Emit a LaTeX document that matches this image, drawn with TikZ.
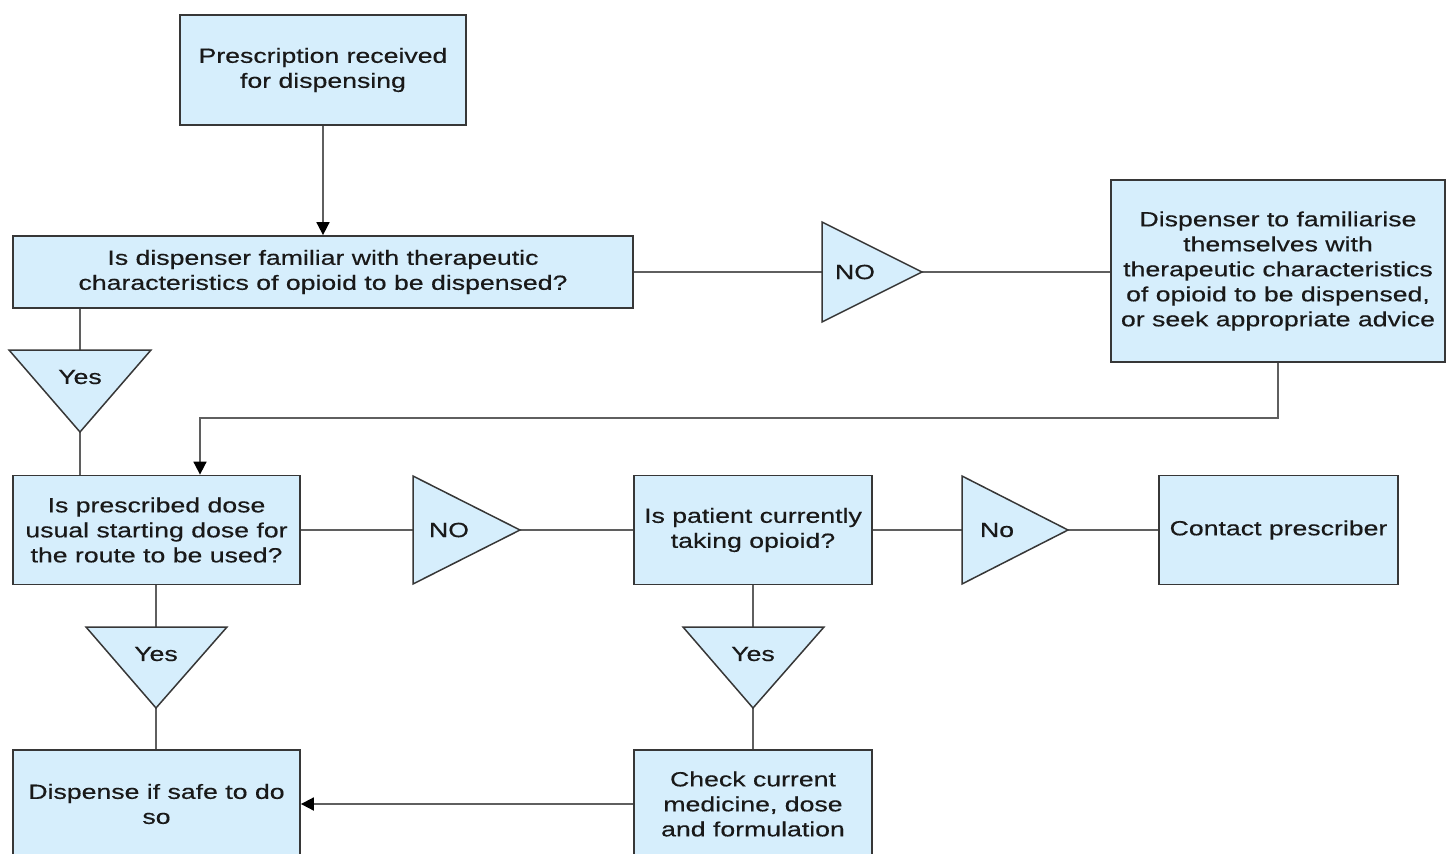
\documentclass[tikz,border=0pt]{standalone}
\usepackage{fontspec}
\setmainfont[FakeStretch=1.3,FakeBold=0.4]{Liberation Sans}
\usetikzlibrary{arrows.meta}
\definecolor{boxfill}{RGB}{214,238,252}
\definecolor{boxline}{RGB}{55,55,55}
\definecolor{conn}{RGB}{95,95,95}
\definecolor{txt}{RGB}{25,25,25}
\tikzset{
  fbox/.style={draw=boxline, line width=1.8pt, fill=boxfill, inner sep=0pt, align=center, text=txt,
    font=\fontsize{20.5}{25}\selectfont},
  link/.style={draw=conn, line width=1.8pt},
  arr/.style={link, -{Triangle[width=13pt,length=13pt,color=black]}},
  tri/.style={draw=boxline, line width=1.5pt, fill=boxfill, line join=miter},
  tlabel/.style={font=\fontsize{20.5}{25}\selectfont, inner sep=0pt, text=txt},
}
\begin{document}
\begin{tikzpicture}[x=1pt,y=-1pt]
\useasboundingbox (0,0) rectangle (1451,854);
\clip (0,0) rectangle (1451,854);

% boxes
\node[fbox, minimum width=286pt, minimum height=110pt] (b1) at (323,70) {Prescription received\\for dispensing};
\node[fbox, minimum width=620pt, minimum height=72pt] (b2) at (323,272) {Is dispenser familiar with therapeutic\\characteristics of opioid to be dispensed?};
\node[fbox, minimum width=334pt, minimum height=182pt] (b3) at (1278,271) {Dispenser to familiarise\\themselves with\\therapeutic characteristics\\of opioid to be dispensed,\\or seek appropriate advice};
\node[fbox, minimum width=287pt, minimum height=109pt] (b4) at (156.5,530) {Is prescribed dose\\usual starting dose for\\the route to be used?};
\node[fbox, minimum width=238pt, minimum height=109pt] (b5) at (753,530) {Is patient currently\\taking opioid?};
\node[fbox, minimum width=239pt, minimum height=109pt] (b6) at (1278.5,530) {Contact prescriber};
\node[fbox, minimum width=287pt, minimum height=108pt] (b7) at (156.5,804) {Dispense if safe to do\\so};
\node[fbox, minimum width=238pt, minimum height=108pt] (b8) at (753,804) {Check current\\medicine, dose\\and formulation};

% triangle ports
\coordinate (t1in) at (822,272);  \coordinate (t1out) at (922,272);
\coordinate (t2in) at (80,350);   \coordinate (t2out) at (80,432);
\coordinate (t3in) at (413,530);  \coordinate (t3out) at (520,530);
\coordinate (t4in) at (962,530);  \coordinate (t4out) at (1068,530);
\coordinate (t5in) at (156,627);  \coordinate (t5out) at (156,708);
\coordinate (t6in) at (753,627);  \coordinate (t6out) at (753,708);
\coordinate (j1) at (200,418);

% connectors
\draw[arr] (b1) -- (b2);
\draw[link] (b2.east) -- (t1in);
\draw[link] (t1out) -- (t1out -| b3.west);
\draw[link] (t2in |- b2.south) -- (t2in);
\draw[link] (t2out) -- (t2out |- b4.north);
\draw[arr] (b3.south) |- (j1) -- (j1 |- b4.north);
\draw[link] (b4.east) -- (t3in);
\draw[link] (t3out) -- (b5.west);
\draw[link] (b5.east) -- (t4in);
\draw[link] (t4out) -- (b6.west);
\draw[link] (t5in |- b4.south) -- (t5in);
\draw[link] (t5out) -- (t5out |- b7.north);
\draw[link] (b5.south) -- (t6in);
\draw[link] (t6out) -- (b8.north);
\draw[arr] (b8.west) -- (b7.east);

% triangles
\draw[tri] (822,222) -- (922,272) -- (822,322) -- cycle;
\node[tlabel] (l1) at (855,272) {NO};
\draw[tri] (9,350) -- (151,350) -- (80,432) -- cycle;
\node[tlabel] (l2) at (80,377) {Yes};
\draw[tri] (413,476) -- (520,530) -- (413,584) -- cycle;
\node[tlabel] (l3) at (449,530) {NO};
\draw[tri] (962,476) -- (1068,530) -- (962,584) -- cycle;
\node[tlabel] (l4) at (997,530) {No};
\draw[tri] (86,627) -- (227,627) -- (156,708) -- cycle;
\node[tlabel] (l5) at (156,654) {Yes};
\draw[tri] (683,627) -- (824,627) -- (753,708) -- cycle;
\node[tlabel] (l6) at (753,654) {Yes};
\end{tikzpicture}
\end{document}
